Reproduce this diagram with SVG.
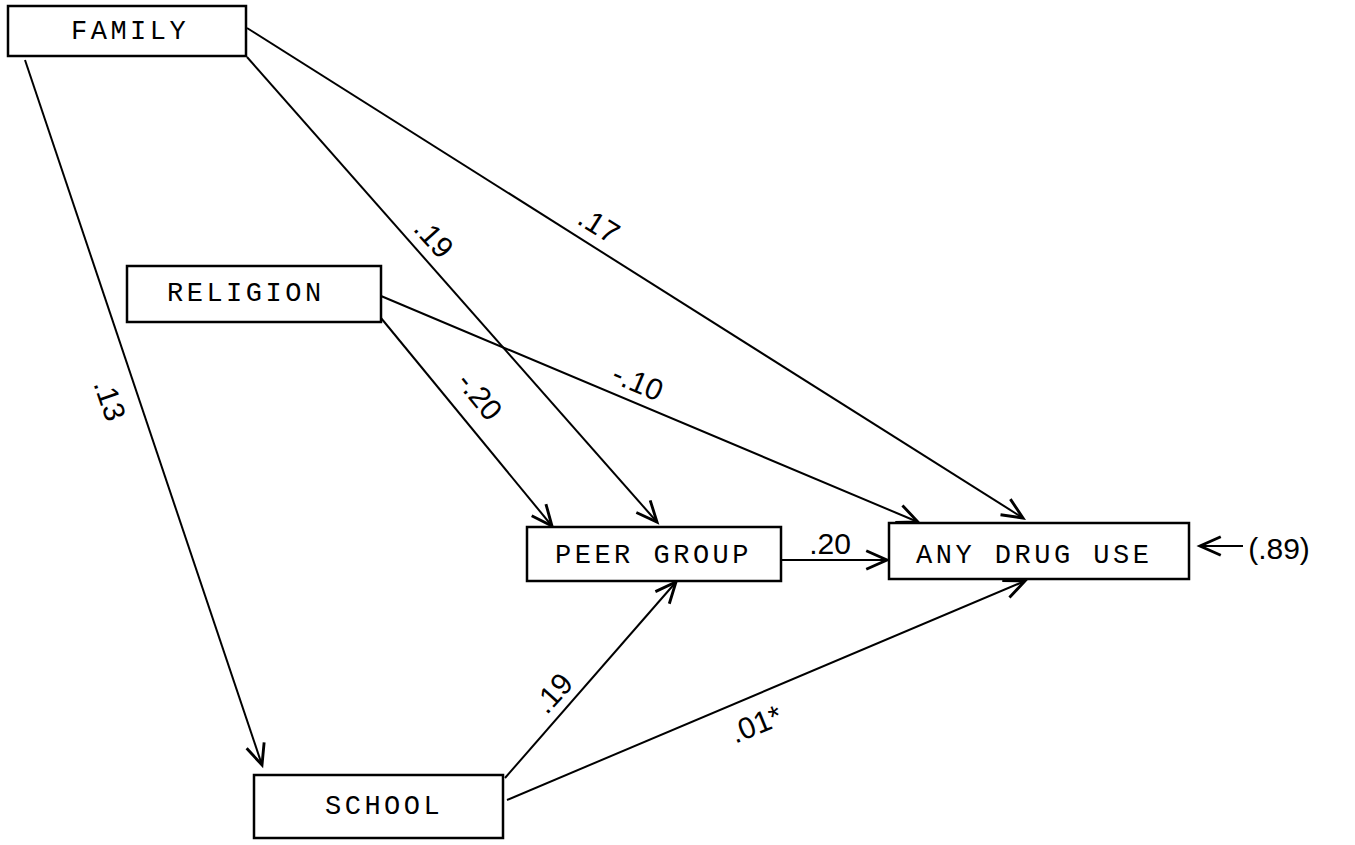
<svg xmlns="http://www.w3.org/2000/svg" width="1355" height="845" viewBox="0 0 1355 845">
<style>
.box{fill:#fff;stroke:#000;stroke-width:2.5}
.bt{font-family:"Liberation Mono","DejaVu Sans Mono",monospace;font-size:27px;letter-spacing:3.5px;fill:#000}
.ed{stroke:#000;stroke-width:2;fill:none;marker-end:url(#ah)}
.lb{font-family:"Liberation Sans","DejaVu Sans",sans-serif;font-size:30px;fill:#000;text-anchor:middle;dominant-baseline:central}
</style>
<defs>
<marker id="ah" markerUnits="userSpaceOnUse" markerWidth="30" markerHeight="30" viewBox="-22 -12 26 24" refX="0" refY="0" orient="auto">
<path d="M-18,-8 L0,0 L-18,8" fill="none" stroke="#000" stroke-width="2.5"/>
</marker>
</defs>
<rect width="1355" height="845" fill="#fff"/>
<g id="connectors">
<line class="ed" x1="247" y1="28" x2="1023" y2="518"/>
<line class="ed" x1="247" y1="57" x2="657" y2="522"/>
<line class="ed" x1="25" y1="60" x2="262" y2="765"/>
<line class="ed" x1="381" y1="296" x2="918" y2="522"/>
<line class="ed" x1="381" y1="318" x2="552" y2="526"/>
<line class="ed" x1="782" y1="560" x2="887" y2="560"/>
<line class="ed" x1="505" y1="778" x2="676" y2="582"/>
<line class="ed" x1="507" y1="800" x2="1025" y2="581"/>
<line class="ed" x1="1243" y1="546" x2="1200" y2="546"/>
</g>
<g id="labels">
<text class="lb" transform="translate(434,238) rotate(48)">.19</text>
<text class="lb" transform="translate(599,225) rotate(32)">.17</text>
<text class="lb" transform="translate(480,396) rotate(51)">-.20</text>
<text class="lb" transform="translate(638,382) rotate(23)">-.10</text>
<text class="lb" transform="translate(110,400) rotate(71)">.13</text>
<text class="lb" x="830" y="543">.20</text>
<text class="lb" transform="translate(553,693) rotate(-48)">.19</text>
<text class="lb" transform="translate(756,724) rotate(-22)">.01*</text>
<text class="lb" x="1279" y="548">(.89)</text>
</g>
<g id="family"><rect class="box" x="8" y="6" width="238" height="50"/><text class="bt" x="71" y="39">FAMILY</text></g>
<g id="religion"><rect class="box" x="127" y="266" width="254" height="56"/><text class="bt" x="167" y="301">RELIGION</text></g>
<g id="peer-group"><rect class="box" x="527" y="527" width="254" height="54"/><text class="bt" x="555" y="563">PEER GROUP</text></g>
<g id="any-drug-use"><rect class="box" x="889" y="523" width="300" height="56"/><text class="bt" x="916" y="563">ANY DRUG USE</text></g>
<g id="school"><rect class="box" x="254" y="775" width="249" height="63"/><text class="bt" x="325" y="814">SCHOOL</text></g>
</svg>
